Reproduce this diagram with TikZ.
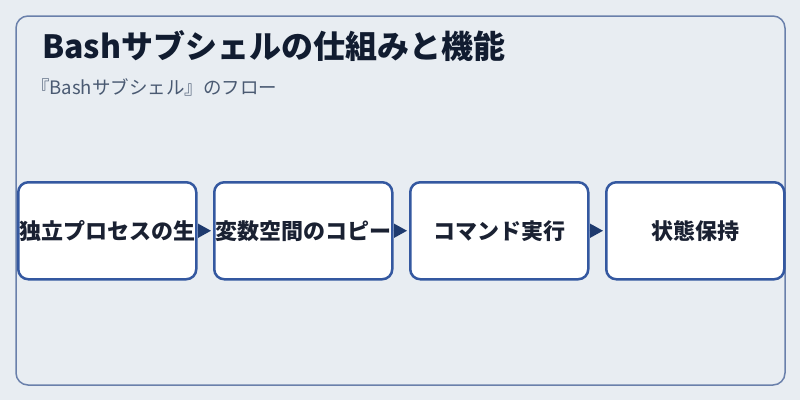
\documentclass[tikz,border=0pt]{standalone}
\usepackage{fontspec}
\setmainfont{Noto Sans CJK JP}
\usetikzlibrary{arrows.meta}
\definecolor{bg}{HTML}{E8EDF2}
\definecolor{frame}{HTML}{6A80AB}
\definecolor{boxline}{HTML}{3458A0}
\definecolor{titlec}{HTML}{111C30}
\definecolor{subc}{HTML}{4A5A72}
\definecolor{boxtext}{HTML}{1A2132}
\definecolor{arrowc}{HTML}{1E3A6E}
\tikzset{
  stepbox/.style={draw=boxline, line width=2.5pt, fill=white, rounded corners=10pt,
    minimum width=178pt, minimum height=97pt, inner sep=0pt, anchor=north west,
    font=\fontsize{22pt}{25pt}\selectfont\bfseries, text=boxtext},
  flow/.style={draw=arrowc, line width=1.5pt, -{Triangle[length=13pt,width=14pt]}, fill=arrowc, shorten >=2pt}
}
\begin{document}
\begin{tikzpicture}[x=1pt,y=-1pt]
\useasboundingbox (0,0) rectangle (800,400);
\fill[bg] (0,0) rectangle (800,400);
\draw[frame, line width=1.5pt, rounded corners=12pt] (16,16) rectangle (785,385);
\node[anchor=base west, inner sep=0pt, font=\fontsize{32pt}{36pt}\selectfont\bfseries, text=titlec] (title) at (42,58) {Bashサブシェルの仕組みと機能};
\node[anchor=base west, inner sep=0pt, font=\fontsize{18.5pt}{22pt}\selectfont, text=subc] (sub) at (31,94) {『Bashサブシェル』のフロー};
\node[stepbox] (b1) at (17,181) {独立プロセスの生};
\node[stepbox] (b2) at (213,181) {変数空間のコピー};
\node[stepbox] (b3) at (409,181) {コマンド実行};
\node[stepbox] (b4) at (605,181) {状態保持};
\draw[flow] (b1.east) -- (b2.west);
\draw[flow] (b2.east) -- (b3.west);
\draw[flow] (b3.east) -- (b4.west);
\end{tikzpicture}
\end{document}
